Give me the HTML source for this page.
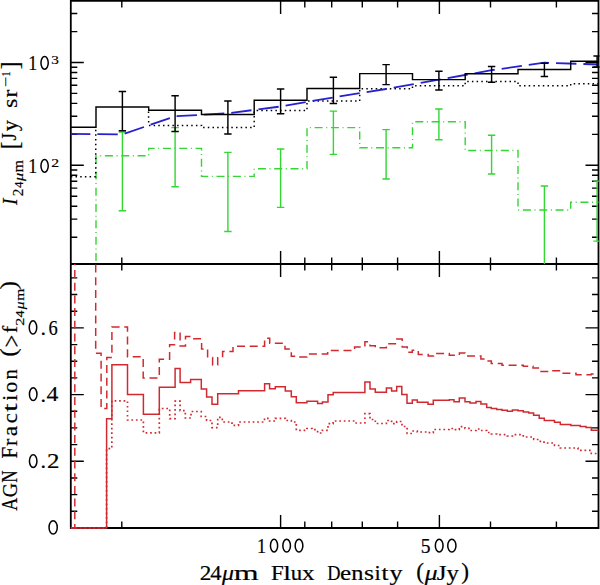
<!DOCTYPE html><html><head><meta charset="utf-8"><style>html,body{margin:0;padding:0;background:#fff;}svg{display:block;}text{font-family:"Liberation Serif",serif;fill:#000;stroke:#000;stroke-width:0.2px;}</style></head><body>
<svg width="600" height="585" viewBox="0 0 600 585">
<rect width="600" height="585" fill="#fff"/>
<defs><clipPath id="ct"><rect x="69.8" y="-0.09999999999999998" width="529.7" height="264.1"/></clipPath><clipPath id="cb"><rect x="69.8" y="264.0" width="529.7" height="265.0"/></clipPath></defs>
<path d="M121.8 0.9V7.4M121.8 257.5V270.5M121.8 521.5V528M280.6 0.9V13.9M280.6 251V277M280.6 515V528M304.8 0.9V7.4M304.8 257.5V270.5M304.8 521.5V528M331.7 0.9V7.4M331.7 257.5V270.5M331.7 521.5V528M362.3 0.9V7.4M362.3 257.5V270.5M362.3 521.5V528M397.6 0.9V7.4M397.6 257.5V270.5M397.6 521.5V528M439.4 0.9V13.9M439.4 251V277M439.4 515V528M490.5 0.9V7.4M490.5 257.5V270.5M490.5 521.5V528M556.4 0.9V7.4M556.4 257.5V270.5M556.4 521.5V528M70.8 237.2H77.3M592 237.2H598.5M70.8 219.1H77.3M592 219.1H598.5M70.8 206.2H77.3M592 206.2H598.5M70.8 196.2H77.3M592 196.2H598.5M70.8 188.1H77.3M592 188.1H598.5M70.8 181.2H77.3M592 181.2H598.5M70.8 175.3H77.3M592 175.3H598.5M70.8 170H77.3M592 170H598.5M70.8 165.3H83.8M585.5 165.3H598.5M70.8 134.4H77.3M592 134.4H598.5M70.8 116.3H77.3M592 116.3H598.5M70.8 103.4H77.3M592 103.4H598.5M70.8 93.4H77.3M592 93.4H598.5M70.8 85.3H77.3M592 85.3H598.5M70.8 78.4H77.3M592 78.4H598.5M70.8 72.5H77.3M592 72.5H598.5M70.8 67.2H77.3M592 67.2H598.5M70.8 62.5H83.8M585.5 62.5H598.5M70.8 31.6H77.3M592 31.6H598.5M70.8 13.5H77.3M592 13.5H598.5M70.8 511.3H77.3M592 511.3H598.5M70.8 494.6H77.3M592 494.6H598.5M70.8 478H77.3M592 478H598.5M70.8 461.3H83.8M585.5 461.3H598.5M70.8 444.6H77.3M592 444.6H598.5M70.8 427.9H77.3M592 427.9H598.5M70.8 411.3H77.3M592 411.3H598.5M70.8 394.6H83.8M585.5 394.6H598.5M70.8 377.9H77.3M592 377.9H598.5M70.8 361.2H77.3M592 361.2H598.5M70.8 344.6H77.3M592 344.6H598.5M70.8 327.9H83.8M585.5 327.9H598.5M70.8 311.2H77.3M592 311.2H598.5M70.8 294.5H77.3M592 294.5H598.5M70.8 277.9H77.3M592 277.9H598.5" stroke="#000" stroke-width="1.4" fill="none"/>
<path d="M70.8 0.9 H598.5 V528.0 H70.8 Z M70.8 264.0 H598.5" stroke="#000" stroke-width="1.8" fill="none"/>
<g clip-path="url(#ct)" fill="none">
<path d="M70.8 300 L96 300 L96 155.7 L148.7 155.7 L148.7 148.4 L201.5 148.4 L201.5 176.4 L254.2 176.4 L254.2 168.8 L307 168.8 L307 127.6 L359.7 127.6 L359.7 147.8 L412.5 147.8 L412.5 121.8 L465.2 121.8 L465.2 150.5 L518 150.5 L518 210 L570.7 210 L570.7 202.2 L598.5 202.2" stroke="#33d633" stroke-width="1.4" stroke-dasharray="8 3.6 1 3.72" stroke-dashoffset="1.07"/>
<path d="M122.4 132 V210.8 M118.7 132 H126.1 M118.7 210.8 H126.1" stroke="#33d633" stroke-width="1.4"/>
<path d="M175.1 127.6 V186.8 M171.4 127.6 H178.8 M171.4 186.8 H178.8" stroke="#33d633" stroke-width="1.4"/>
<path d="M227.9 152.4 V231.5 M224.2 152.4 H231.6 M224.2 231.5 H231.6" stroke="#33d633" stroke-width="1.4"/>
<path d="M280.6 149 V207.4 M276.9 149 H284.3 M276.9 207.4 H284.3" stroke="#33d633" stroke-width="1.4"/>
<path d="M333.4 111.1 V154.4 M329.7 111.1 H337.1 M329.7 154.4 H337.1" stroke="#33d633" stroke-width="1.4"/>
<path d="M386.1 129.6 V179 M382.4 129.6 H389.8 M382.4 179 H389.8" stroke="#33d633" stroke-width="1.4"/>
<path d="M438.9 109 V139.8 M435.2 109 H442.6 M435.2 139.8 H442.6" stroke="#33d633" stroke-width="1.4"/>
<path d="M491.6 135.2 V174 M487.9 135.2 H495.3 M487.9 174 H495.3" stroke="#33d633" stroke-width="1.4"/>
<path d="M544.4 186 V300 M540.7 186 H548.1 M540.7 300 H548.1" stroke="#33d633" stroke-width="1.4"/>
<path d="M597.1 181.1 V241.1 M593.4 181.1 H600.8 M593.4 241.1 H600.8" stroke="#33d633" stroke-width="1.4"/>
<path d="M70.8 176.7 H95.75 V128.5" stroke="#000" stroke-width="1.5" stroke-dasharray="1.5 3.2"/>
<path d="M148.5 111.5 L148.7 125.4 L201.5 125.4 L201.5 127.6 L254.2 127.6 L254.2 110.6 L307 110.6 L307 101 L359.7 101 L359.7 88.7 L412.5 88.7 L412.5 85.8 L465.2 85.8 L465.2 81.5 L518 81.5 L518 85.8 L570.7 85.8 L570.7 83.8 L598.5 83.8" stroke="#000" stroke-width="1.5" stroke-dasharray="1.5 3.2"/>
<path d="M70.8 133.8 L122.4 134.4 L175.1 116.3 L227.9 113.3 L280.6 106.5 L333.4 97.4 L386.1 89 L438.9 79.7 L491.6 70.2 L544.4 62.7 L598.4 64.5" stroke="#2620d0" stroke-width="1.8" stroke-dasharray="20.4 7" stroke-dashoffset="0.8"/>
<path d="M70.8 127.3 L96 127.3 L96 107 L148.7 107 L148.7 110.3 L201.5 110.3 L201.5 114.4 L254.2 114.4 L254.2 100.2 L307 100.2 L307 88.5 L359.7 88.5 L359.7 73.6 L412.5 73.6 L412.5 79.6 L465.2 79.6 L465.2 73.8 L518 73.8 L518 69.4 L570.7 69.4 L570.7 61.2 L598.5 61.2" stroke="#000" stroke-width="1.45"/>
<path d="M122.4 91.5 V130.8 M118.7 91.5 H126.1 M118.7 130.8 H126.1" stroke="#000" stroke-width="1.45"/>
<path d="M175.1 95.8 V131.5 M171.4 95.8 H178.8 M171.4 131.5 H178.8" stroke="#000" stroke-width="1.45"/>
<path d="M227.9 100.9 V134 M224.2 100.9 H231.6 M224.2 134 H231.6" stroke="#000" stroke-width="1.45"/>
<path d="M280.6 88.9 V113.8 M276.9 88.9 H284.3 M276.9 113.8 H284.3" stroke="#000" stroke-width="1.45"/>
<path d="M333.4 77.2 V103.4 M329.7 77.2 H337.1 M329.7 103.4 H337.1" stroke="#000" stroke-width="1.45"/>
<path d="M386.1 64.6 V84.6 M382.4 64.6 H389.8 M382.4 84.6 H389.8" stroke="#000" stroke-width="1.45"/>
<path d="M438.9 71.2 V90 M435.2 71.2 H442.6 M435.2 90 H442.6" stroke="#000" stroke-width="1.45"/>
<path d="M491.6 66.5 V82.3 M487.9 66.5 H495.3 M487.9 82.3 H495.3" stroke="#000" stroke-width="1.45"/>
<path d="M544.4 63.2 V76.4 M540.7 63.2 H548.1 M540.7 76.4 H548.1" stroke="#000" stroke-width="1.45"/>
<path d="M597.1 55.9 V66.9 M593.4 55.9 H600.8 M593.4 66.9 H600.8" stroke="#000" stroke-width="1.45"/>
</g>
<g clip-path="url(#cb)" fill="none" stroke="#d02a30" stroke-width="1.5">
<path d="M70.8 528 L74.8 528 L74.8 250 L95.7 250 L95.7 353.3 L101.1 353.3 L101.1 408.5 L106.8 408.5 L106.8 357.4 L111.9 357.4 L111.9 327 L127.5 327 L127.5 356.7 L143.2 356.7 L143.2 378 L159.3 378 L159.3 359.2 L169.6 359.2 L169.6 344.7 L174.6 344.7 L174.6 332.5 L180.1 332.5 L180.1 346.1 L185.5 346.1 L185.5 336.6 L191.5 336.6 L191.5 338.7 L201.6 338.7 L201.6 348.9 L207.6 348.9 L207.6 357.6 L212.6 357.6 L212.6 365 L217.7 365 L217.7 357.7 L222.6 357.7 L222.6 351.4 L233 351.4 L233 346.3 L264.6 346.3 L264.6 338.3 L269.7 338.3 L269.7 343.3 L285 343.3 L285 349 L291.3 349 L291.3 356.3 L296.3 356.3 L296.3 357 L306.9 357 L306.9 354 L327.7 354 L327.7 350.5 L354.6 350.5 L354.6 347 L364.9 347 L364.9 341.7 L370 341.7 L370 345.7 L375.3 345.7 L375.3 347.7 L386.4 347.7 L386.4 343.7 L396.7 343.7 L396.7 339 L402.2 339 L402.2 347 L407.3 347 L407.3 352.3 L412.3 352.3 L412.3 350.3 L418.3 350.3 L418.3 354.6 L428.2 354.6 L428.2 356 L433.5 356 L433.5 353.4 L449.3 353.4 L449.3 355.3 L459.4 355.3 L459.4 353 L465 353 L465 356 L480.9 356 L480.9 359.1 L486.7 359.1 L486.7 361 L491.3 361 L491.3 363.4 L502 363.4 L502 365.2 L523.3 365.2 L523.3 366.3 L533 366.3 L533 368.1 L539.2 368.1 L539.2 371.6 L549.5 371.6 L549.5 370.8 L560.3 370.8 L560.3 373.3 L576 373.3 L576 374.7 L591.3 374.7 L591.3 374 L598.4 374" stroke-dasharray="8 4.7"/>
<path d="M70.8 528 L106.6 528 L106.6 448.7 L111.8 448.7 L111.8 400.8 L127.5 400.8 L127.5 420 L143.4 420 L143.4 432.8 L159.3 432.8 L159.3 408.5 L169.7 408.5 L169.7 418.7 L175.1 418.7 L175.1 401.1 L180.1 401.1 L180.1 410.6 L185.3 410.6 L185.3 418 L191 418 L191 411.5 L201.2 411.5 L201.2 416.5 L206.6 416.5 L206.6 420.5 L212 420.5 L212 427.7 L217.7 427.7 L217.7 417.3 L222.3 417.3 L222.3 422 L232 422 L232 425.3 L238.5 425.3 L238.5 422 L264.5 422 L264.5 418.3 L269.6 418.3 L269.6 421 L275.3 421 L275.3 418.3 L285.3 418.3 L285.3 420.5 L291.3 420.5 L291.3 422 L296.3 422 L296.3 430.3 L306.9 430.3 L306.9 428.5 L312 428.5 L312 429.7 L317.6 429.7 L317.6 433 L322.4 433 L322.4 430.3 L328 430.3 L328 423.7 L333.1 423.7 L333.1 421 L354.6 421 L354.6 423 L364.9 423 L364.9 413.7 L370 413.7 L370 419.5 L375.3 419.5 L375.3 423.5 L386.4 423.5 L386.4 420.5 L391.6 420.5 L391.6 423.7 L396.7 423.7 L396.7 421.5 L402 421.5 L402 426.5 L407.1 426.5 L407.1 433.5 L412.3 433.5 L412.3 431 L417.3 431 L417.3 432 L428 432 L428 432.7 L433.3 432.7 L433.3 429.5 L449.3 429.5 L449.3 428.5 L454 428.5 L454 429.7 L459.3 429.7 L459.3 426.7 L465 426.7 L465 428.3 L470 428.3 L470 430.5 L476 430.5 L476 429 L480.9 429 L480.9 430.5 L486.7 430.5 L486.7 432.5 L491.3 432.5 L491.3 434 L496.7 434 L496.7 434.7 L507.3 434.7 L507.3 436 L512.4 436 L512.4 434.7 L523.3 434.7 L523.3 437 L533.7 437 L533.7 439.5 L539.3 439.5 L539.3 441.3 L544 441.3 L544 443 L554.5 443 L554.5 445.5 L560.3 445.5 L560.3 448 L578 448 L578 450.3 L591.3 450.3 L591.3 453.5 L598.4 453.5" stroke-width="1.7" stroke-dasharray="1.7 2.8"/>
<path d="M70.8 528 L106.6 528 L106.6 418.7 L111.9 418.7 L111.9 364.8 L127.5 364.8 L127.5 394.6 L143.4 394.6 L143.4 414.3 L159.3 414.3 L159.3 387.3 L175.1 387.3 L175.1 368.5 L180.1 368.5 L180.1 382.5 L190.6 382.5 L190.6 379.5 L201.3 379.5 L201.3 388.9 L206.6 388.9 L206.6 397.1 L212 397.1 L212 404.3 L217.7 404.3 L217.7 393.7 L238.5 393.7 L238.5 390.7 L264.6 390.7 L264.6 383.7 L269.6 383.7 L269.6 388.7 L275.3 388.7 L275.3 386.7 L285.3 386.7 L285.3 391.1 L291.3 391.1 L291.3 396.7 L296.3 396.7 L296.3 402.7 L306.9 402.7 L306.9 401.3 L317.6 401.3 L317.6 403.6 L322.4 403.6 L322.4 402 L328 402 L328 394.7 L333.2 394.7 L333.2 392.5 L364.9 392.5 L364.9 381.9 L370 381.9 L370 389 L375.3 389 L375.3 392.3 L386.4 392.3 L386.4 387.9 L391.6 387.9 L391.6 391 L396.7 391 L396.7 386.6 L401.8 386.6 L401.8 394.6 L407 394.6 L407 403.3 L412.3 403.3 L412.3 400.1 L417.3 400.1 L417.3 402.3 L428 402.3 L428 404.3 L433.3 404.3 L433.3 400.3 L449.3 400.3 L449.3 399.8 L454 399.8 L454 401.7 L459.3 401.7 L459.3 397.9 L465 397.9 L465 401.7 L470 401.7 L470 403 L476 403 L476 401.4 L480.9 401.4 L480.9 403.9 L486.7 403.9 L486.7 407.4 L491.3 407.4 L491.3 408.6 L496.7 408.6 L496.7 409.4 L502 409.4 L502 410.3 L507.3 410.3 L507.3 411.3 L512.4 411.3 L512.4 409.9 L518 409.9 L518 410.7 L523.3 410.7 L523.3 412.1 L528.7 412.1 L528.7 413 L533.6 413 L533.6 415.3 L539.2 415.3 L539.2 418.2 L544.3 418.2 L544.3 420.4 L554.5 420.4 L554.5 422.2 L560.3 422.2 L560.3 424.5 L570.8 424.5 L570.8 425.4 L580.2 425.4 L580.2 426.6 L586 426.6 L586 427.6 L591.3 427.6 L591.3 430.3 L598.4 430.3"/>
</g>
<text transform="matrix(0.832 0 0 1.008 28.127 70)" font-size="21.5">1</text>
<ellipse cx="44.6" cy="62.85" rx="3.65" ry="6.4" fill="none" stroke="#000" stroke-width="1.5"/>
<text transform="matrix(1.13 0 0 0.926 51.27 63.578)" font-size="13.5">3</text>
<text transform="matrix(0.832 0 0 1.008 28.127 173)" font-size="21.5">1</text>
<ellipse cx="44.6" cy="165.85" rx="3.65" ry="6.4" fill="none" stroke="#000" stroke-width="1.5"/>
<text transform="matrix(1.164 0 0 0.94 51.309 166.7)" font-size="13.5">2</text>
<ellipse cx="33" cy="327.45" rx="3.75" ry="6.6" fill="none" stroke="#000" stroke-width="1.5"/>
<text transform="matrix(1.023 0 0 1 40.55 335)" font-size="21.5">.</text>
<text transform="matrix(0.857 0 0 0.966 48.565 334.597)" font-size="21.5" font-family="Liberation Sans">6</text>
<ellipse cx="33.2" cy="394.15" rx="3.75" ry="6.4" fill="none" stroke="#000" stroke-width="1.5"/>
<text transform="matrix(1.023 0 0 1 40.55 401.5)" font-size="21.5">.</text>
<text transform="matrix(1.101 0 0 1.011 46.538 401.3)" font-size="21.5">4</text>
<ellipse cx="33.2" cy="461.1" rx="3.75" ry="6.35" fill="none" stroke="#000" stroke-width="1.5"/>
<text transform="matrix(1.023 0 0 1 40.55 468.4)" font-size="21.5">.</text>
<text transform="matrix(1.16 0 0 0.998 46.904 468.2)" font-size="21.5">2</text>
<ellipse cx="53.15" cy="527.375" rx="4.1" ry="6.625" fill="none" stroke="#000" stroke-width="1.5"/>
<text transform="matrix(0.846 0 0 0.979 257.102 552.5)" font-size="21.5">1</text>
<ellipse cx="274.05" cy="545.65" rx="3.6" ry="6.4" fill="none" stroke="#000" stroke-width="1.5"/>
<ellipse cx="286.65" cy="545.65" rx="3.8" ry="6.4" fill="none" stroke="#000" stroke-width="1.5"/>
<ellipse cx="299" cy="545.65" rx="3.85" ry="6.4" fill="none" stroke="#000" stroke-width="1.5"/>
<text transform="matrix(0.912 0 0 0.933 420.715 552.504)" font-size="21.5" font-family="Liberation Sans">5</text>
<ellipse cx="439.2" cy="545.7" rx="3.85" ry="6.35" fill="none" stroke="#000" stroke-width="1.5"/>
<ellipse cx="451.85" cy="545.7" rx="4.1" ry="6.35" fill="none" stroke="#000" stroke-width="1.5"/>
<text transform="matrix(1.079 0 0 1 199.681 580)" font-size="21.5">2</text>
<text transform="matrix(1.051 0 0 1 210.259 580)" font-size="21.5">4</text>
<text transform="matrix(1.109 0 0 1 222.023 580)" font-size="21.5" font-style="italic">μ</text>
<text transform="matrix(1.487 0 0 1 233.629 580)" font-size="21.5">m</text>
<text transform="matrix(1.07 0 0 1 271.037 580)" font-size="21.5">F</text>
<text transform="matrix(1.291 0 0 1 283.144 580)" font-size="21.5">l</text>
<text transform="matrix(1.059 0 0 1 290.7 580)" font-size="21.5">u</text>
<text transform="matrix(1.165 0 0 1 302.08 580)" font-size="21.5">x</text>
<text transform="matrix(0.854 0 0 1 327.171 580)" font-size="21.5">D</text>
<text transform="matrix(1.169 0 0 1 340.018 580)" font-size="21.5">e</text>
<text transform="matrix(1.138 0 0 1 351.139 580)" font-size="21.5">n</text>
<text transform="matrix(1.193 0 0 1 363.948 580)" font-size="21.5">s</text>
<text transform="matrix(1.037 0 0 1 374.532 580)" font-size="21.5">i</text>
<text transform="matrix(1.171 0 0 1 381.454 580)" font-size="21.5">t</text>
<text transform="matrix(1.211 0 0 1 389.382 580)" font-size="21.5">y</text>
<text transform="matrix(1.087 0 0 1.026 416.273 579.304)" font-size="21.5">(</text>
<text transform="matrix(1.188 0 0 1 424.725 580)" font-size="21.5" font-style="italic">μ</text>
<text transform="matrix(1.166 0 0 1 436.774 580)" font-size="21.5">J</text>
<text transform="matrix(1.153 0 0 1 446.397 580)" font-size="21.5">y</text>
<text transform="matrix(1.087 0 0 1.026 461.247 579.304)" font-size="21.5">)</text>
<text transform="rotate(-90) matrix(0.915 0 0 1.016 -205.023 16.9)" font-size="21.5" font-style="italic">I</text>
<text transform="rotate(-90) matrix(1.127 0 0 1.007 -196.269 22.8)" font-size="13.5">2</text>
<text transform="rotate(-90) matrix(0.956 0 0 0.968 -187.952 22.8)" font-size="13.5">4</text>
<text transform="rotate(-90) matrix(1.214 0 0 1 -180.884 22.8)" font-size="13.5" font-style="italic">μ</text>
<text transform="rotate(-90) matrix(1.149 0 0 1.038 -172.226 22.8)" font-size="13.5">m</text>
<text transform="rotate(-90) matrix(1.065 0 0 1.197 -149.3 17.857)" font-size="21.5">[</text>
<text transform="rotate(-90) matrix(0.911 0 0 0.973 -140.511 16.396)" font-size="21.5">J</text>
<text transform="rotate(-90) matrix(1.038 0 0 0.993 -131.172 16.695)" font-size="21.5">y</text>
<text transform="rotate(-90) matrix(1.118 0 0 0.967 -107.986 16.797)" font-size="21.5">s</text>
<text transform="rotate(-90) matrix(1.086 0 0 0.987 -97.567 17)" font-size="21.5">r</text>
<text transform="rotate(-90) matrix(1.389 0 0 1 -87.199 10.3)" font-size="13">−</text>
<text transform="rotate(-90) matrix(0.721 0 0 0.932 -76.324 10.3)" font-size="13">1</text>
<text transform="rotate(-90) matrix(1.086 0 0 1.186 -69.344 17.689)" font-size="21.5">]</text>
<text transform="rotate(-90) matrix(0.844 0 0 1.029 -510.677 17.2)" font-size="21.5">A</text>
<text transform="rotate(-90) matrix(0.916 0 0 1 -497.208 17.2)" font-size="21.5">G</text>
<text transform="rotate(-90) matrix(0.798 0 0 1.037 -482.794 17.2)" font-size="21.5">N</text>
<text transform="rotate(-90) matrix(0.975 0 0 1.037 -458.604 17.2)" font-size="21.5">F</text>
<text transform="rotate(-90) matrix(1.04 0 0 1 -446.048 17.2)" font-size="21.5">r</text>
<text transform="rotate(-90) matrix(1.095 0 0 1 -436.128 17.2)" font-size="21.5">a</text>
<text transform="rotate(-90) matrix(1.054 0 0 1 -423.363 17.2)" font-size="21.5">c</text>
<text transform="rotate(-90) matrix(1.366 0 0 1 -411.687 17.2)" font-size="21.5">t</text>
<text transform="rotate(-90) matrix(0.998 0 0 1 -400.75 17.2)" font-size="21.5">i</text>
<text transform="rotate(-90) matrix(1.032 0 0 1 -392.645 17.2)" font-size="21.5">o</text>
<text transform="rotate(-90) matrix(0.957 0 0 1 -379.472 17.2)" font-size="21.5">n</text>
<text transform="rotate(-90) matrix(1.195 0 0 1.041 -356.829 15.534)" font-size="21.5">(</text>
<text transform="rotate(-90) matrix(1.02 0 0 1.196 -347.313 19.734)" font-size="21.5">&gt;</text>
<text transform="rotate(-90) matrix(1 0 0 0.945 -333.062 17.2)" font-size="21.5">f</text>
<text transform="rotate(-90) matrix(1.201 0 0 1 -325.813 23.5)" font-size="13.5">2</text>
<text transform="rotate(-90) matrix(1.052 0 0 1 -317.477 23.5)" font-size="13.5">4</text>
<text transform="rotate(-90) matrix(1.151 0 0 1 -309.185 23.5)" font-size="13.5" font-style="italic">μ</text>
<text transform="rotate(-90) matrix(1.159 0 0 1 -300.729 23.5)" font-size="13.5">m</text>
<text transform="rotate(-90) matrix(1.177 0 0 1.041 -289.616 15.534)" font-size="21.5">)</text>
</svg></body></html>
